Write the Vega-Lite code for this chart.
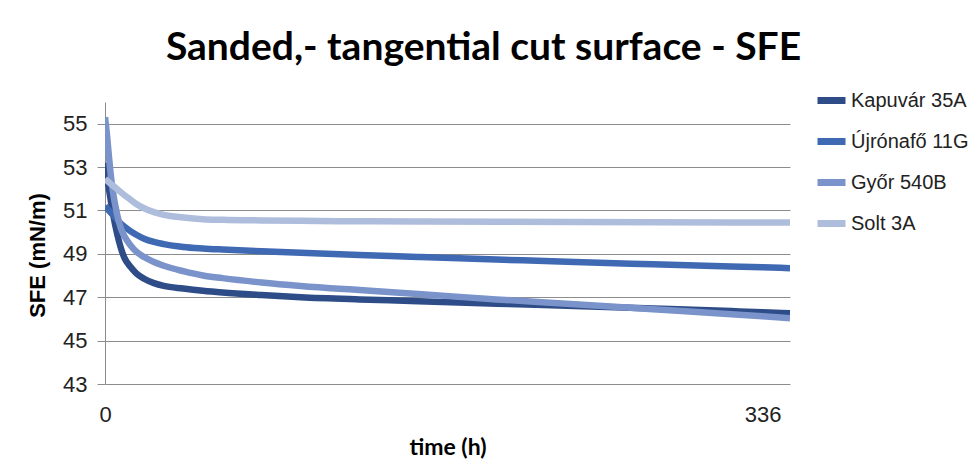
{
  "$schema": "https://vega.github.io/schema/vega-lite/v6.json",
  "width": 685,
  "height": 282,
  "autosize": "none",
  "padding": {"left": 105, "top": 102, "right": 182, "bottom": 80},
  "background": "white",
  "title": {"text": "Sanded,- tangential cut surface - SFE", "anchor": "middle", "dx": 36, "offset": 15, "font": "Lato", "fontWeight": "bold", "fontSize": 39, "color": "#000000"},
  "config": {"view": {"stroke": null}},
  "data": {"values": [
    {"t": 0, "s": "Kapuvár 35A", "v": 53.2}, {"t": 2, "s": "Kapuvár 35A", "v": 52.0}, {"t": 4, "s": "Kapuvár 35A", "v": 50.9}, {"t": 6, "s": "Kapuvár 35A", "v": 50.0}, {"t": 8, "s": "Kapuvár 35A", "v": 49.3}, {"t": 10, "s": "Kapuvár 35A", "v": 48.8}, {"t": 13, "s": "Kapuvár 35A", "v": 48.4}, {"t": 16, "s": "Kapuvár 35A", "v": 48.1}, {"t": 20, "s": "Kapuvár 35A", "v": 47.85}, {"t": 25, "s": "Kapuvár 35A", "v": 47.65}, {"t": 30, "s": "Kapuvár 35A", "v": 47.52}, {"t": 40, "s": "Kapuvár 35A", "v": 47.4}, {"t": 50, "s": "Kapuvár 35A", "v": 47.3}, {"t": 60, "s": "Kapuvár 35A", "v": 47.22}, {"t": 80, "s": "Kapuvár 35A", "v": 47.1}, {"t": 100, "s": "Kapuvár 35A", "v": 47.0}, {"t": 130, "s": "Kapuvár 35A", "v": 46.9}, {"t": 160, "s": "Kapuvár 35A", "v": 46.82}, {"t": 200, "s": "Kapuvár 35A", "v": 46.7}, {"t": 240, "s": "Kapuvár 35A", "v": 46.6}, {"t": 280, "s": "Kapuvár 35A", "v": 46.48}, {"t": 320, "s": "Kapuvár 35A", "v": 46.36}, {"t": 336, "s": "Kapuvár 35A", "v": 46.31}, {"t": 350, "s": "Kapuvár 35A", "v": 46.26},
    {"t": 0, "s": "Újrónafő 11G", "v": 51.2}, {"t": 2, "s": "Újrónafő 11G", "v": 51.0}, {"t": 4, "s": "Újrónafő 11G", "v": 50.8}, {"t": 6, "s": "Újrónafő 11G", "v": 50.6}, {"t": 8, "s": "Újrónafő 11G", "v": 50.4}, {"t": 10, "s": "Újrónafő 11G", "v": 50.25}, {"t": 13, "s": "Újrónafő 11G", "v": 50.05}, {"t": 16, "s": "Újrónafő 11G", "v": 49.88}, {"t": 20, "s": "Újrónafő 11G", "v": 49.7}, {"t": 25, "s": "Újrónafő 11G", "v": 49.55}, {"t": 30, "s": "Újrónafő 11G", "v": 49.45}, {"t": 40, "s": "Újrónafő 11G", "v": 49.32}, {"t": 50, "s": "Újrónafő 11G", "v": 49.25}, {"t": 60, "s": "Újrónafő 11G", "v": 49.2}, {"t": 80, "s": "Újrónafő 11G", "v": 49.12}, {"t": 100, "s": "Újrónafő 11G", "v": 49.05}, {"t": 130, "s": "Újrónafő 11G", "v": 48.95}, {"t": 160, "s": "Újrónafő 11G", "v": 48.86}, {"t": 200, "s": "Újrónafő 11G", "v": 48.74}, {"t": 240, "s": "Újrónafő 11G", "v": 48.62}, {"t": 280, "s": "Újrónafő 11G", "v": 48.52}, {"t": 320, "s": "Újrónafő 11G", "v": 48.42}, {"t": 336, "s": "Újrónafő 11G", "v": 48.38}, {"t": 350, "s": "Újrónafő 11G", "v": 48.34},
    {"t": 0, "s": "Győr 540B", "v": 55.3}, {"t": 1, "s": "Győr 540B", "v": 54.5}, {"t": 2, "s": "Győr 540B", "v": 53.5}, {"t": 3, "s": "Győr 540B", "v": 52.6}, {"t": 4, "s": "Győr 540B", "v": 51.9}, {"t": 6, "s": "Győr 540B", "v": 50.9}, {"t": 8, "s": "Győr 540B", "v": 50.2}, {"t": 10, "s": "Győr 540B", "v": 49.8}, {"t": 13, "s": "Győr 540B", "v": 49.4}, {"t": 16, "s": "Győr 540B", "v": 49.1}, {"t": 20, "s": "Győr 540B", "v": 48.85}, {"t": 25, "s": "Győr 540B", "v": 48.62}, {"t": 30, "s": "Győr 540B", "v": 48.45}, {"t": 40, "s": "Győr 540B", "v": 48.2}, {"t": 50, "s": "Győr 540B", "v": 48.0}, {"t": 60, "s": "Győr 540B", "v": 47.88}, {"t": 80, "s": "Győr 540B", "v": 47.68}, {"t": 100, "s": "Győr 540B", "v": 47.52}, {"t": 130, "s": "Győr 540B", "v": 47.33}, {"t": 160, "s": "Győr 540B", "v": 47.15}, {"t": 200, "s": "Győr 540B", "v": 46.9}, {"t": 240, "s": "Győr 540B", "v": 46.68}, {"t": 280, "s": "Győr 540B", "v": 46.45}, {"t": 320, "s": "Győr 540B", "v": 46.22}, {"t": 336, "s": "Győr 540B", "v": 46.12}, {"t": 350, "s": "Győr 540B", "v": 46.03},
    {"t": 0, "s": "Solt 3A", "v": 52.45}, {"t": 2, "s": "Solt 3A", "v": 52.3}, {"t": 4, "s": "Solt 3A", "v": 52.15}, {"t": 6, "s": "Solt 3A", "v": 52.0}, {"t": 8, "s": "Solt 3A", "v": 51.85}, {"t": 10, "s": "Solt 3A", "v": 51.7}, {"t": 13, "s": "Solt 3A", "v": 51.5}, {"t": 16, "s": "Solt 3A", "v": 51.3}, {"t": 20, "s": "Solt 3A", "v": 51.1}, {"t": 25, "s": "Solt 3A", "v": 50.92}, {"t": 30, "s": "Solt 3A", "v": 50.8}, {"t": 40, "s": "Solt 3A", "v": 50.68}, {"t": 50, "s": "Solt 3A", "v": 50.6}, {"t": 60, "s": "Solt 3A", "v": 50.57}, {"t": 80, "s": "Solt 3A", "v": 50.54}, {"t": 100, "s": "Solt 3A", "v": 50.52}, {"t": 130, "s": "Solt 3A", "v": 50.5}, {"t": 160, "s": "Solt 3A", "v": 50.49}, {"t": 200, "s": "Solt 3A", "v": 50.48}, {"t": 240, "s": "Solt 3A", "v": 50.47}, {"t": 280, "s": "Solt 3A", "v": 50.46}, {"t": 320, "s": "Solt 3A", "v": 50.45}, {"t": 336, "s": "Solt 3A", "v": 50.45}, {"t": 350, "s": "Solt 3A", "v": 50.45}
  ]},
  "mark": {"type": "line", "strokeWidth": 6.5, "interpolate": "monotone", "clip": true},
  "encoding": {
    "x": {"field": "t", "type": "quantitative", "scale": {"domain": [0, 350], "nice": false},
      "axis": {"title": "time (h)", "values": [0, 336], "grid": false, "domain": false, "ticks": false, "labelFont": "Liberation Sans", "labelFontSize": 22, "labelColor": "#222222", "labelPadding": 20, "titleFont": "Lato", "titleFontWeight": "bold", "titleFontSize": 23, "titleColor": "#000000", "titlePadding": 11, "labelFlush": false}},
    "y": {"field": "v", "type": "quantitative", "scale": {"domain": [43, 56], "nice": false, "zero": false},
      "axis": {"title": "SFE (mN/m)", "values": [43, 45, 47, 49, 51, 53, 55], "grid": true, "gridColor": "#8c8c8c", "gridWidth": 1, "domainColor": "#8c8c8c", "tickColor": "#8c8c8c", "tickSize": 8, "labelFont": "Liberation Sans", "labelFontSize": 22, "labelColor": "#222222", "labelPadding": 10, "titleFont": "Liberation Sans", "titleFontWeight": "bold", "titleFontSize": 22, "titleColor": "#000000", "titlePadding": 13, "titleY": 153}},
    "color": {"field": "s", "type": "nominal", "sort": ["Kapuvár 35A", "Újrónafő 11G", "Győr 540B", "Solt 3A"],
      "scale": {"domain": ["Kapuvár 35A", "Újrónafő 11G", "Győr 540B", "Solt 3A"], "range": ["#2E4C87", "#4069B3", "#7B93CB", "#AFBDDD"]},
      "legend": {"title": null, "orient": "none", "legendX": 709, "legendY": -19, "symbolType": "stroke", "symbolSize": 784, "symbolStrokeWidth": 7, "labelFont": "Liberation Sans", "labelFontSize": 20, "labelColor": "#222222", "labelOffset": 2, "rowPadding": 9, "labelLimit": 300}},
    "order": {"field": "t", "type": "quantitative"}
  }
}
